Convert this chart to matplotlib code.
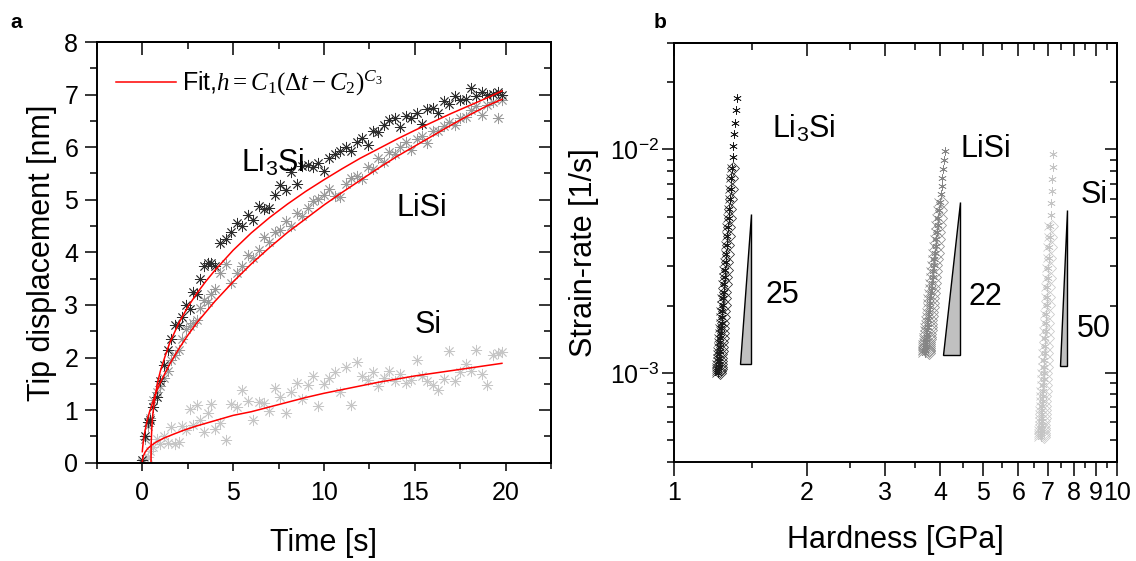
"""Creep curves (a) and strain-rate vs hardness (b) for the Li-Si phases."""

import matplotlib
matplotlib.use("Agg")
import matplotlib.pyplot as plt
from matplotlib.ticker import MultipleLocator, FixedLocator, NullFormatter, LogLocator

plt.rcParams["font.family"] = "Liberation Sans"
plt.rcParams["mathtext.fontset"] = "custom"
plt.rcParams["mathtext.rm"] = "Liberation Serif"
plt.rcParams["mathtext.it"] = "Liberation Serif:italic"
plt.rcParams["mathtext.sf"] = "Liberation Sans"

# ---- panel a: tip displacement [nm] vs time [s] ----
time_s = [0, 0.15, 0.3, 0.45, 0.6, 0.8, 1.0, 1.2, 1.4, 1.6, 1.8, 2.0, 2.2, 2.4, 2.6, 2.8,
          3.0, 3.2, 3.4, 3.6, 3.8, 4.0, 4.3, 4.6, 4.9, 5.2, 5.5, 5.8, 6.1, 6.4, 6.7, 7.0,
          7.3, 7.6, 7.9, 8.2, 8.5, 8.8, 9.1, 9.4, 9.7, 10.0, 10.3, 10.6, 10.9, 11.2, 11.5,
          11.8, 12.1, 12.4, 12.7, 13.0, 13.3, 13.6, 13.9, 14.2, 14.5, 14.8, 15.1, 15.4,
          15.7, 16.0, 16.3, 16.6, 16.9, 17.2, 17.5, 17.8, 18.1, 18.4, 18.7, 19.0, 19.3,
          19.6, 19.8]
li3si_h = [0.05, 0.5, 0.78, 0.82, 1.05, 1.25, 1.55, 1.85, 2.15, 2.35, 2.62, 2.62, 2.78,
           3.0, 2.92, 3.25, 3.2, 3.5, 3.75, 3.8, 3.8, 3.75, 4.18, 4.25, 4.38, 4.55, 4.5,
           4.72, 4.62, 4.88, 4.82, 4.85, 5.1, 5.28, 5.18, 5.52, 5.3, 5.65, 5.66, 5.62, 5.7,
           5.55, 5.8, 5.88, 5.92, 6.0, 5.92, 6.1, 6.18, 6.05, 6.3, 6.28, 6.42, 6.52, 6.55,
           6.38, 6.6, 6.55, 6.65, 6.45, 6.72, 6.75, 6.65, 6.88, 6.82, 6.98, 6.9, 6.92,
           7.12, 6.98, 7.05, 7.0, 7.02, 7.05, 7.0]
lisi_h = [0.0, 0.45, 0.7, 0.85, 1.2, 1.35, 1.45, 1.62, 1.75, 1.95, 2.05, 2.15, 2.35, 2.55,
          2.6, 2.65, 2.72, 2.95, 3.1, 3.05, 3.2, 3.3, 3.6, 3.78, 3.42, 3.6, 3.75, 3.95,
          3.9, 4.05, 4.3, 4.2, 4.38, 4.42, 4.6, 4.5, 4.75, 4.7, 4.85, 4.98, 5.02, 5.1,
          5.2, 5.08, 5.05, 5.3, 5.42, 5.45, 5.4, 5.62, 5.58, 5.8, 5.72, 5.9, 5.88, 6.0,
          6.1, 5.95, 6.15, 6.22, 6.08, 6.3, 6.3, 6.4, 6.48, 6.42, 6.55, 6.58, 6.7, 6.78,
          6.62, 6.8, 6.85, 6.55, 6.9]
si_h = [0.02, 0.08, 0.1, 0.22, 0.3, 0.45, 0.35, 0.5, 0.37, 0.68, 0.35, 0.4, 0.7, 0.62, 1.02,
        0.72, 1.1, 0.82, 0.58, 0.95, 1.12, 0.65, 0.75, 0.43, 1.12, 1.05, 1.38, 1.18, 0.82,
        1.15, 1.13, 0.98, 1.42, 1.25, 0.95, 1.35, 1.52, 1.22, 1.48, 1.65, 1.07, 1.5, 1.62,
        1.72, 1.35, 1.82, 1.1, 1.92, 1.65, 1.58, 1.72, 1.45, 1.62, 1.75, 1.55, 1.68, 1.52,
        1.58, 1.95, 1.65, 1.55, 1.48, 1.38, 1.6, 2.12, 1.55, 1.72, 1.88, 1.75, 2.15, 1.68,
        1.48, 2.05, 2.08, 2.1]

fit_li3si_t = [0.48, 0.49, 0.52, 0.58, 0.7, 0.85, 1.0, 1.25, 1.5, 2.0, 2.5, 3.0, 3.5, 4.0,
               5.0, 6.0, 7.0, 8.0, 9.0, 10.0, 11.0, 12.0, 13.0, 14.0, 15.0, 16.0, 17.0,
               18.0, 19.0, 19.8]
fit_li3si_h = [0.0, 0.38, 0.65, 0.93, 1.25, 1.54, 1.75, 2.02, 2.27, 2.65, 2.96, 3.22, 3.45,
               3.66, 4.04, 4.37, 4.66, 4.92, 5.16, 5.38, 5.59, 5.79, 5.97, 6.15, 6.32, 6.48,
               6.64, 6.79, 6.94, 7.07]
fit_lisi_t = [0.0, 0.02, 0.06, 0.12, 0.25, 0.4, 0.6, 0.8, 1.0, 1.5, 2.0, 2.5, 3.0, 4.0,
              5.0, 6.0, 7.0, 8.0, 9.0, 10.0, 11.0, 12.0, 13.0, 14.0, 15.0, 16.0, 17.0,
              18.0, 19.0, 19.8]
fit_lisi_h = [0.21, 0.29, 0.42, 0.55, 0.78, 0.97, 1.18, 1.37, 1.53, 1.87, 2.16, 2.42, 2.66,
              3.07, 3.44, 3.78, 4.09, 4.38, 4.64, 4.9, 5.14, 5.37, 5.6, 5.82, 6.02, 6.22,
              6.42, 6.61, 6.79, 6.91]
fit_si_t = [0.0, 0.05, 0.15, 0.3, 0.5, 0.8, 1.2, 1.7, 2.3, 3.0, 4.0, 5.0, 6.0, 7.0, 8.0,
            9.0, 10.0, 11.0, 12.0, 13.0, 14.0, 15.0, 16.0, 17.0, 18.0, 19.0, 19.8]
fit_si_h = [0.02, 0.12, 0.2, 0.27, 0.33, 0.4, 0.47, 0.54, 0.62, 0.7, 0.8, 0.9, 0.97, 1.06,
            1.15, 1.24, 1.32, 1.39, 1.46, 1.53, 1.59, 1.65, 1.7, 1.75, 1.8, 1.85, 1.89]

# ---- panel b: strain-rate [1/s] vs hardness [GPa], three runs per phase ----
li3si_rate = [1.000e-3, 1.019e-3, 1.040e-3, 1.066e-3, 1.095e-3, 1.128e-3, 1.166e-3, 1.208e-3,
              1.255e-3, 1.308e-3, 1.367e-3, 1.432e-3, 1.505e-3, 1.586e-3, 1.677e-3, 1.778e-3,
              1.890e-3, 2.015e-3, 2.154e-3, 2.310e-3, 2.484e-3, 2.678e-3, 2.896e-3, 3.141e-3,
              3.416e-3, 3.726e-3, 4.075e-3, 4.470e-3, 4.917e-3, 5.424e-3, 6.001e-3, 6.657e-3,
              7.406e-3, 8.265e-3, 9.247e-3, 1.0375e-2, 1.1677e-2, 1.318e-2, 1.492e-2, 1.693e-2]
li3si_hard_1 = [1.259, 1.260, 1.261, 1.262, 1.263, 1.264, 1.266, 1.267, 1.269, 1.271, 1.273,
                1.275, 1.277, 1.279, 1.282, 1.284, 1.287, 1.290, 1.293, 1.296, 1.299, 1.302,
                1.306, 1.309, 1.313, 1.317, 1.321, 1.325, 1.330, 1.334, 1.339, 1.344, 1.349,
                1.354, 1.359, 1.364, 1.370, 1.375, 1.381, 1.387]
li3si_hard_2 = [1.244, 1.245, 1.246, 1.247, 1.248, 1.249, 1.251, 1.253, 1.255, 1.257, 1.259,
                1.261, 1.263, 1.266, 1.269, 1.271, 1.274, 1.277, 1.281, 1.284, 1.287, 1.290,
                1.295, 1.298, 1.302, 1.307, 1.311, 1.315, 1.321, 1.325, 1.331, 1.336, 1.341,
                1.347]
li3si_hard_3 = [1.274, 1.275, 1.276, 1.277, 1.278, 1.279, 1.281, 1.281, 1.283, 1.285, 1.287,
                1.289, 1.291, 1.292, 1.295, 1.297, 1.300, 1.303, 1.305, 1.308, 1.311, 1.314,
                1.317, 1.320, 1.324, 1.327, 1.331, 1.335, 1.339, 1.343, 1.347, 1.352, 1.357,
                1.361]

lisi_rate = [1.230e-3, 1.247e-3, 1.266e-3, 1.289e-3, 1.315e-3, 1.344e-3, 1.376e-3, 1.413e-3,
             1.453e-3, 1.498e-3, 1.547e-3, 1.601e-3, 1.661e-3, 1.726e-3, 1.798e-3, 1.876e-3,
             1.962e-3, 2.057e-3, 2.160e-3, 2.273e-3, 2.398e-3, 2.534e-3, 2.683e-3, 2.848e-3,
             3.029e-3, 3.228e-3, 3.447e-3, 3.690e-3, 3.957e-3, 4.252e-3, 4.579e-3, 4.941e-3,
             5.343e-3, 5.791e-3, 6.290e-3, 6.844e-3, 7.464e-3, 8.156e-3, 8.930e-3, 9.800e-3]
lisi_hard_1 = [3.694, 3.697, 3.699, 3.703, 3.706, 3.710, 3.715, 3.720, 3.725, 3.731, 3.737,
               3.743, 3.750, 3.757, 3.765, 3.773, 3.782, 3.791, 3.800, 3.810, 3.820, 3.831,
               3.842, 3.853, 3.865, 3.878, 3.890, 3.904, 3.918, 3.932, 3.946, 3.961, 3.977,
               3.993, 4.010, 4.027, 4.044, 4.062, 4.081, 4.100]
lisi_hard_2 = [3.628, 3.631, 3.633, 3.637, 3.640, 3.645, 3.650, 3.655, 3.661, 3.667, 3.673,
               3.680, 3.687, 3.695, 3.703, 3.712, 3.722, 3.731, 3.741, 3.752, 3.762, 3.774,
               3.786, 3.798, 3.811, 3.824, 3.837, 3.852, 3.867, 3.882, 3.897, 3.914, 3.931,
               3.948]
lisi_hard_3 = [3.761, 3.763, 3.765, 3.769, 3.772, 3.775, 3.780, 3.785, 3.789, 3.795, 3.801,
               3.806, 3.813, 3.819, 3.827, 3.834, 3.842, 3.851, 3.859, 3.869, 3.878, 3.888,
               3.898, 3.908, 3.920, 3.932, 3.943, 3.956, 3.969, 3.982, 3.995, 4.009, 4.023,
               4.038]

si_rate = [5.170e-4, 5.269e-4, 5.385e-4, 5.521e-4, 5.676e-4, 5.853e-4, 6.054e-4, 6.279e-4,
           6.532e-4, 6.815e-4, 7.130e-4, 7.484e-4, 7.877e-4, 8.314e-4, 8.803e-4, 9.347e-4,
           9.955e-4, 1.0632e-3, 1.1388e-3, 1.2236e-3, 1.3184e-3, 1.4246e-3, 1.5442e-3,
           1.6784e-3, 1.8301e-3, 2.0011e-3, 2.1944e-3, 2.4136e-3, 2.6624e-3, 2.9452e-3,
           3.2682e-3, 3.6365e-3, 4.0583e-3, 4.5427e-3, 5.0995e-3, 5.7407e-3, 6.4830e-3,
           7.3433e-3, 8.3387e-3, 9.4994e-3]
si_hard_1 = [6.753, 6.756, 6.759, 6.763, 6.767, 6.771, 6.776, 6.781, 6.787, 6.793, 6.800,
             6.807, 6.814, 6.822, 6.831, 6.840, 6.849, 6.859, 6.869, 6.879, 6.890, 6.902,
             6.914, 6.926, 6.939, 6.952, 6.966, 6.981, 6.995, 7.010, 7.026, 7.042, 7.059,
             7.076, 7.094, 7.112, 7.130, 7.150, 7.169, 7.189]
si_hard_2 = [6.652, 6.655, 6.659, 6.663, 6.667, 6.672, 6.678, 6.683, 6.690, 6.697, 6.705,
             6.713, 6.721, 6.730, 6.740, 6.750, 6.760, 6.771, 6.783, 6.794, 6.807, 6.820,
             6.834, 6.847, 6.862, 6.877, 6.893, 6.909, 6.925, 6.942, 6.961, 6.979, 6.998,
             7.017]
si_hard_3 = [6.854, 6.857, 6.860, 6.863, 6.867, 6.870, 6.874, 6.879, 6.884, 6.889, 6.895,
             6.901, 6.907, 6.914, 6.922, 6.930, 6.938, 6.947, 6.955, 6.964, 6.974, 6.984,
             6.994, 7.005, 7.016, 7.027, 7.040, 7.053, 7.065, 7.078, 7.092, 7.105, 7.120,
             7.135]

# slope triangles: hardness left, hardness right, rate low, rate high
tri_li3si = [1.412, 1.495, 1.094e-3, 5.11e-3]
tri_lisi = [4.057, 4.433, 1.201e-3, 5.84e-3]
tri_si = [7.47, 7.73, 1.068e-3, 5.34e-3]
slope_labels = ["25", "22", "50"]

hard_ticks = [1, 2, 3, 4, 5, 6, 7, 8, 9, 10]
hard_minor = [1.5, 2.5, 3.5, 4.5, 5.5, 6.5, 7.5, 8.5, 9.5]

ASTER = (8, 2, 0)
TICK = 18
LABEL = 22


def inner_ticks(ax, maj_len, min_len):
    """Origin-style: top/right ticks point in, bottom/left point out."""
    top = ax.secondary_xaxis("top")
    right = ax.secondary_yaxis("right")
    for sec, side in ((top, ax.xaxis), (right, ax.yaxis)):
        axis = sec.xaxis if sec is top else sec.yaxis
        axis.set_major_locator(side.get_major_locator())
        axis.set_minor_locator(side.get_minor_locator())
        axis.set_major_formatter(NullFormatter())
        axis.set_minor_formatter(NullFormatter())
        sec.tick_params(which="major", direction="in", length=maj_len, width=1.1)
        sec.tick_params(which="minor", direction="in", length=min_len, width=1.1)
        for s in sec.spines.values():
            s.set_linewidth(1.4)


def panel_a(ax):
    ax.plot(time_s, si_h, ls="none", marker=ASTER, ms=8, mew=0.6, color="#c6c6c6")
    ax.plot(time_s, lisi_h, ls="none", marker=ASTER, ms=8, mew=0.6, color="#9a9a9a")
    ax.plot(time_s, li3si_h, ls="none", marker=ASTER, ms=8, mew=0.6, color="#2c2c2c")
    ax.plot(fit_li3si_t, fit_li3si_h, color="red", lw=1.1,
            label=r"Fit,$h=C_1(\Delta t-C_2)^{C_3}$")
    ax.plot(fit_lisi_t, fit_lisi_h, color="red", lw=1.1)
    ax.plot(fit_si_t, fit_si_h, color="red", lw=1.1)

    ax.set_xlim(-2.5, 22.5)
    ax.set_ylim(0, 8)
    ax.xaxis.set_major_locator(MultipleLocator(5))
    ax.xaxis.set_minor_locator(MultipleLocator(2.5))
    ax.yaxis.set_major_locator(MultipleLocator(1))
    ax.yaxis.set_minor_locator(MultipleLocator(0.5))
    ax.tick_params(axis="x", which="major", direction="out", length=6, width=1.1, labelsize=TICK, pad=7)
    ax.tick_params(axis="x", which="minor", direction="out", length=4, width=1.1)
    ax.tick_params(axis="y", which="major", direction="out", length=9, width=1.1, labelsize=TICK, pad=4.5)
    ax.tick_params(axis="y", which="minor", direction="out", length=5, width=1.1)
    for s in ax.spines.values():
        s.set_linewidth(1.4)
    inner_ticks(ax, 9, 5)

    ax.set_xlabel("Time [s]", fontsize=LABEL, va="center")
    ax.xaxis.set_label_coords(0.5, -0.191)
    ax.set_ylabel("Tip displacement [nm]", fontsize=LABEL, va="center")
    ax.yaxis.set_label_coords(-0.121, 0.5)

    ax.text(5.43, 5.53, r"Li$_\mathsf{3}$Si", fontsize=LABEL, va="baseline")
    ax.text(13.97, 4.69, "LiSi", fontsize=LABEL, va="baseline")
    ax.text(15.0, 2.46, "Si", fontsize=LABEL, va="baseline")

    ax.legend(loc="upper left", bbox_to_anchor=(0.003, 0.977), frameon=False, fontsize=18,
              handlelength=2.4, handletextpad=0.25, borderpad=0.2)


def panel_b(ax):
    styles = [dict(marker=(6, 2, 0)), dict(marker="x"), dict(marker="D", mfc="none")]
    groups = [
        ("#1a1a1a", li3si_rate, [li3si_hard_1, li3si_hard_2, li3si_hard_3]),
        ("#858585", lisi_rate, [lisi_hard_1, lisi_hard_2, lisi_hard_3]),
        ("#c4c4c4", si_rate, [si_hard_1, si_hard_2, si_hard_3]),
    ]
    for color, rate, runs in groups:
        for st, hard in zip(styles, runs):
            ax.plot(hard, rate[:len(hard)], ls="none", ms=6, mew=0.5, color=color, **st)

    for tri in (tri_li3si, tri_lisi, tri_si):
        h_lo, h_hi, r_lo, r_hi = tri
        ax.fill([h_lo, h_hi, h_hi, h_lo], [r_lo, r_lo, r_hi, r_lo],
                facecolor="#c0c0c0", edgecolor="black", lw=1.0)

    ax.set_xscale("log")
    ax.set_yscale("log")
    ax.set_xlim(1, 10)
    ax.set_ylim(4e-4, 3e-2)
    ax.xaxis.set_major_locator(FixedLocator(hard_ticks))
    ax.xaxis.set_minor_locator(FixedLocator(hard_minor))
    ax.set_xticklabels([str(v) for v in hard_ticks])
    ax.xaxis.set_minor_formatter(NullFormatter())
    ax.yaxis.set_major_locator(FixedLocator([1e-3, 1e-2]))
    ax.yaxis.set_minor_locator(LogLocator(base=10, subs=(2, 3, 4, 5, 6, 7, 8, 9)))
    ax.set_yticklabels([r"10$^{\mathsf{-3}}$", r"10$^{\mathsf{-2}}$"])
    ax.yaxis.set_minor_formatter(NullFormatter())
    ax.tick_params(axis="x", which="major", direction="out", length=10, width=1.1, labelsize=TICK, pad=4)
    ax.tick_params(axis="x", which="minor", direction="out", length=4, width=1.1)
    ax.tick_params(axis="y", which="major", direction="out", length=9, width=1.1, labelsize=TICK, pad=1.5)
    ax.tick_params(axis="y", which="minor", direction="out", length=5, width=1.1)
    for s in ax.spines.values():
        s.set_linewidth(1.4)
    inner_ticks(ax, 9, 5)

    ax.set_xlabel("Hardness [GPa]", fontsize=LABEL, va="center")
    ax.xaxis.set_label_coords(0.5, -0.187)
    ax.set_ylabel("Strain-rate [1/s]", fontsize=LABEL, va="center")
    ax.yaxis.set_label_coords(-0.2026, 0.5)

    ax.text(1.670, 1.128e-2, r"Li$_\mathsf{3}$Si", fontsize=LABEL, va="baseline")
    ax.text(4.448, 9.27e-3, "LiSi", fontsize=LABEL, va="baseline")
    ax.text(8.30, 5.76e-3, "Si", fontsize=LABEL, va="baseline")
    ax.text(1.608, 2.05e-3, slope_labels[0], fontsize=LABEL, va="baseline")
    ax.text(4.62, 2.01e-3, slope_labels[1], fontsize=LABEL, va="baseline")
    ax.text(8.14, 1.45e-3, slope_labels[2], fontsize=LABEL, va="baseline")


def main() -> None:
    fig = plt.figure(figsize=(11.36, 5.61), dpi=100)
    ax_a = fig.add_axes([0.0853, 0.1752, 0.3997, 0.7499])
    ax_b = fig.add_axes([0.5931, 0.1770, 0.3898, 0.7469])
    panel_a(ax_a)
    panel_b(ax_b)
    fig.text(0.0095, 0.950, "a", fontsize=15, fontweight="bold", va="baseline")
    fig.text(0.5757, 0.950, "b", fontsize=15, fontweight="bold", va="baseline")
    fig.savefig("out.png", dpi=100)


if __name__ == "__main__":
    main()
